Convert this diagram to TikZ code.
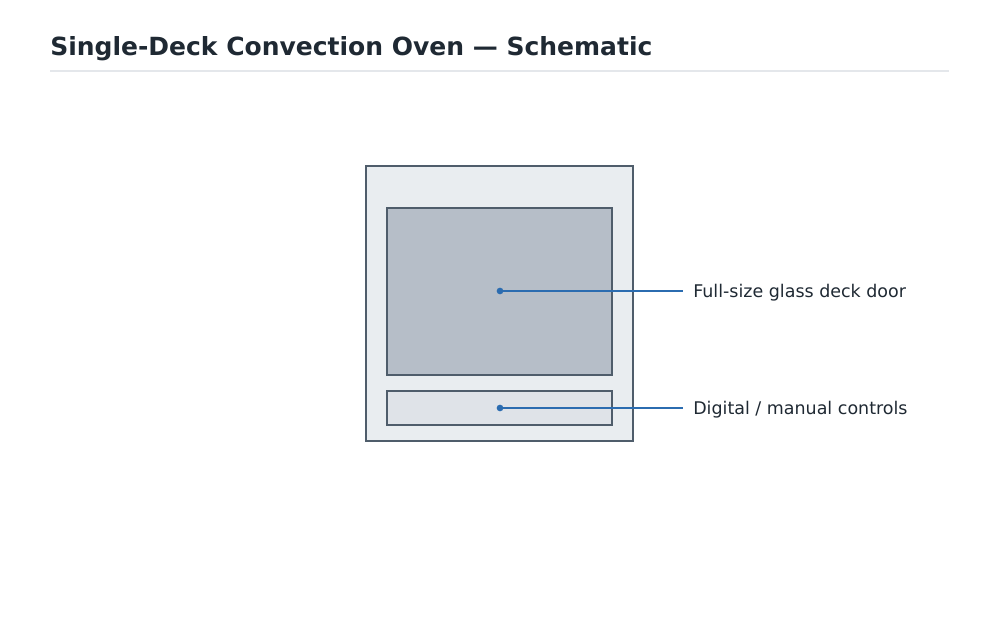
\documentclass[tikz,border=0pt]{standalone}
\usepackage{fontspec}
\setmainfont{DejaVu Sans}
\begin{document}
\begin{tikzpicture}[x=0.75pt,y=-0.75pt,
  part/.style={draw=strokec,line width=1.7pt,inner sep=0pt,outer sep=0pt},
  leader/.style={draw=leadc,line width=1.15pt},
  dotc/.style={circle,fill=leadc,inner sep=0pt,minimum size=5pt},
  lbl/.style={anchor=west,text=textc,font=\fontsize{13.1}{15}\selectfont,inner sep=0pt}]
\definecolor{strokec}{HTML}{4F5D6B}
\definecolor{leadc}{HTML}{2B6CB0}
\definecolor{textc}{HTML}{1F2933}
\definecolor{outerf}{HTML}{E9EDF0}
\definecolor{doorf}{HTML}{B6BEC8}
\definecolor{ctrlf}{HTML}{DFE3E8}
\definecolor{rulec}{HTML}{E4E7EB}
\useasboundingbox[fill=white] (0,0) rectangle (1000,634);
\node[anchor=base west,inner sep=0pt,text=textc,font=\fontsize{18.75}{22}\selectfont\bfseries] (title) at (50,56) {Single-Deck Convection Oven — Schematic};
\draw[rulec,line width=0.9pt] (50,71) -- (949,71);
\path[part,fill=outerf] (366,166) rectangle (633,441);
\path[part,fill=doorf] (387,208) rectangle (612,375);
\path[part,fill=ctrlf] (387,391) rectangle (612,425);
\node[dotc] (d1) at (500,291) {};
\node[dotc] (d2) at (500,408) {};
\coordinate (e1) at (683,291);
\coordinate (e2) at (683,408);
\draw[leader] (d1.center) -- (e1);
\draw[leader] (d2.center) -- (e2);
\node[lbl] (l1) at (693,292.5) {Full-size glass deck door};
\node[lbl] (l2) at (693,409.5) {Digital / manual controls};
\end{tikzpicture}
\end{document}
